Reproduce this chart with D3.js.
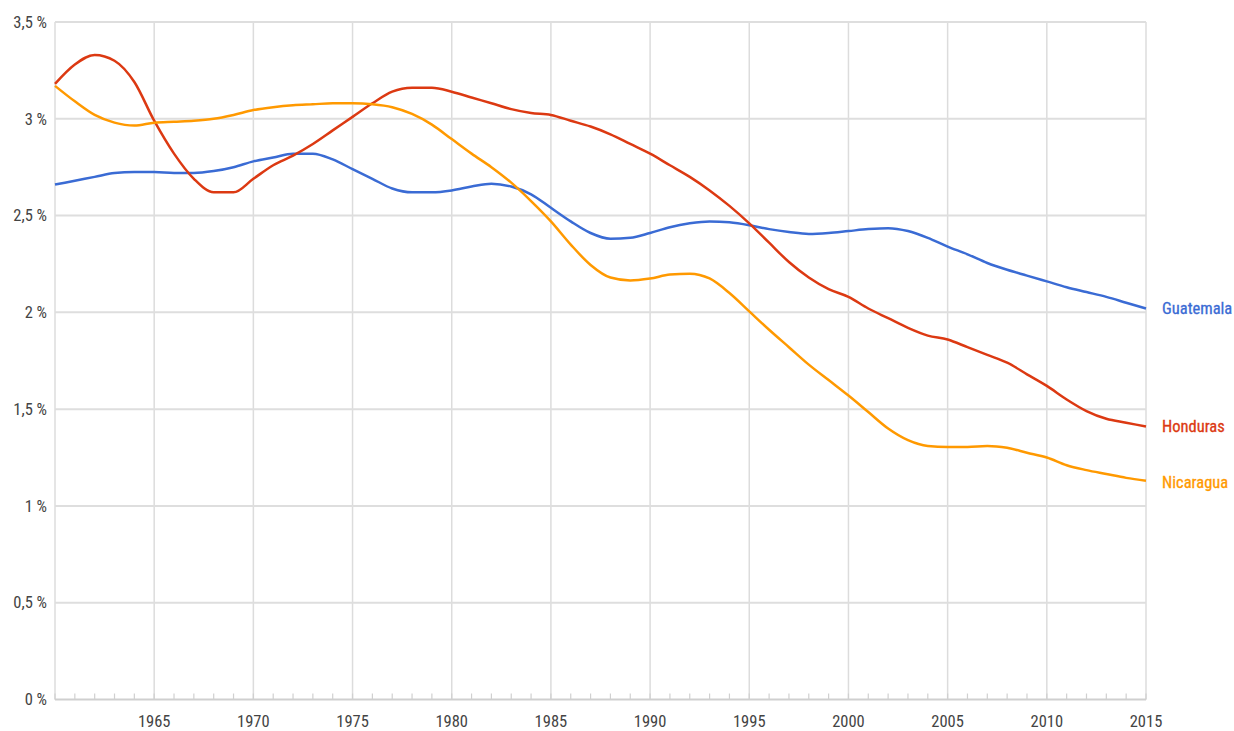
<!DOCTYPE html>
<html>
<head>
<meta charset="utf-8">
<script src="https://cdn.jsdelivr.net/npm/d3@7"></script>
<style>
  body { margin: 0; background: #fff; }
  text { font-family: "Liberation Sans Narrow", "Roboto Condensed", "Liberation Sans", Arial, sans-serif; }
</style>
</head>
<body>
<svg width="1234" height="731"></svg>
<script>
// years 1960..2015
const years = d3.range(1960, 2016);

// population growth (%)
const guatemala = [2.66,2.68,2.70,2.72,2.725,2.725,2.72,2.72,2.73,2.75,
  2.78,2.80,2.82,2.82,2.79,2.74,2.69,2.64,2.62,2.62,
  2.63,2.65,2.665,2.65,2.61,2.54,2.47,2.41,2.38,2.385,
  2.41,2.44,2.46,2.47,2.465,2.45,2.43,2.415,2.405,2.41,
  2.42,2.43,2.435,2.42,2.385,2.34,2.30,2.255,2.22,2.19,
  2.16,2.13,2.105,2.08,2.05,2.02];
const honduras = [3.18,3.28,3.33,3.30,3.19,2.99,2.82,2.69,2.62,2.62,
  2.69,2.76,2.81,2.87,2.94,3.01,3.08,3.14,3.16,3.16,
  3.14,3.11,3.08,3.05,3.03,3.02,2.99,2.96,2.92,2.87,
  2.82,2.76,2.70,2.63,2.55,2.46,2.36,2.26,2.18,2.12,
  2.08,2.02,1.97,1.92,1.88,1.86,1.82,1.78,1.74,1.68,
  1.62,1.55,1.49,1.45,1.43,1.41];
const nicaragua = [3.17,3.09,3.02,2.98,2.965,2.98,2.985,2.99,3.00,3.02,
  3.045,3.06,3.07,3.075,3.08,3.08,3.075,3.06,3.025,2.97,
  2.895,2.82,2.75,2.67,2.575,2.47,2.35,2.245,2.18,2.165,
  2.175,2.195,2.20,2.175,2.10,2.005,1.91,1.82,1.73,1.65,
  1.57,1.485,1.40,1.34,1.31,1.305,1.305,1.31,1.30,1.275,
  1.25,1.21,1.185,1.165,1.145,1.13];

const seriesNames = ['Guatemala', 'Honduras', 'Nicaragua'];
const seriesColors = ['#3a6bd4', '#dc3912', '#ff9900'];
const yTicks = [0, 0.5, 1, 1.5, 2, 2.5, 3, 3.5];
const xTicks = [1965, 1970, 1975, 1980, 1985, 1990, 1995, 2000, 2005, 2010, 2015];

const series = [guatemala, honduras, nicaragua].map((vals, i) => ({
  name: seriesNames[i], color: seriesColors[i],
  values: vals.map((v, j) => ({ year: years[j], v: v }))
}));

const svg = d3.select('svg');
const plotLeft = 55, plotRight = 1146, plotTop = 22, plotBottom = 699.5;

const x = d3.scaleLinear().domain([1960, 2015]).range([plotLeft, plotRight]);
const y = d3.scaleLinear().domain([0, 3.5]).range([plotBottom, plotTop]);

const fmt = d => String(d).replace('.', ',') + ' %';

// grid
svg.append('g').selectAll('line').data(xTicks.concat([1960]))
  .join('line')
  .attr('x1', d => x(d)).attr('x2', d => x(d))
  .attr('y1', plotTop).attr('y2', plotBottom)
  .attr('stroke', '#dcdcdc').attr('stroke-width', 1.5);

svg.append('g').selectAll('line').data(yTicks.filter(d => d > 0))
  .join('line')
  .attr('x1', plotLeft).attr('x2', plotRight)
  .attr('y1', d => y(d)).attr('y2', d => y(d))
  .attr('stroke', '#dedede').attr('stroke-width', 2);

// bottom axis with yearly minor ticks
svg.append('line')
  .attr('x1', plotLeft).attr('x2', plotRight).attr('y1', plotBottom).attr('y2', plotBottom)
  .attr('stroke', '#cfcfcf').attr('stroke-width', 2);
svg.append('g').selectAll('line').data(years)
  .join('line')
  .attr('x1', d => x(d)).attr('x2', d => x(d))
  .attr('y1', plotBottom - 6).attr('y2', plotBottom)
  .attr('stroke', '#d0d0d0').attr('stroke-width', 1.2);

// axis labels
svg.append('g').selectAll('text').data(yTicks)
  .join('text')
  .attr('x', 47).attr('y', d => y(d))
  .attr('dy', '0.35em').attr('text-anchor', 'end')
  .attr('font-size', 16.5).attr('fill', '#444')
  .text(fmt);

svg.append('g').selectAll('text').data(xTicks)
  .join('text')
  .attr('x', d => x(d)).attr('y', 721)
  .attr('dy', '0.35em').attr('text-anchor', 'middle')
  .attr('font-size', 16.5).attr('fill', '#444')
  .text(d => d);

// lines
const line = d3.line().x(d => x(d.year)).y(d => y(d.v)).curve(d3.curveMonotoneX);

svg.append('g').selectAll('path').data(series)
  .join('path')
  .attr('d', d => line(d.values))
  .attr('fill', 'none')
  .attr('stroke', d => d.color)
  .attr('stroke-width', 2.5)
  .attr('stroke-linejoin', 'round');

// end labels
const labelY = { Guatemala: 2.02, Honduras: 1.41, Nicaragua: 1.12 };
svg.append('g').selectAll('text').data(series)
  .join('text')
  .attr('x', 1162).attr('y', d => y(labelY[d.name]))
  .attr('dy', '0.35em')
  .attr('font-size', 16.5)
  .attr('stroke', d => d.color).attr('stroke-width', 0.3)
  .attr('fill', d => d.color)
  .text(d => d.name);
</script>
</body>
</html>
